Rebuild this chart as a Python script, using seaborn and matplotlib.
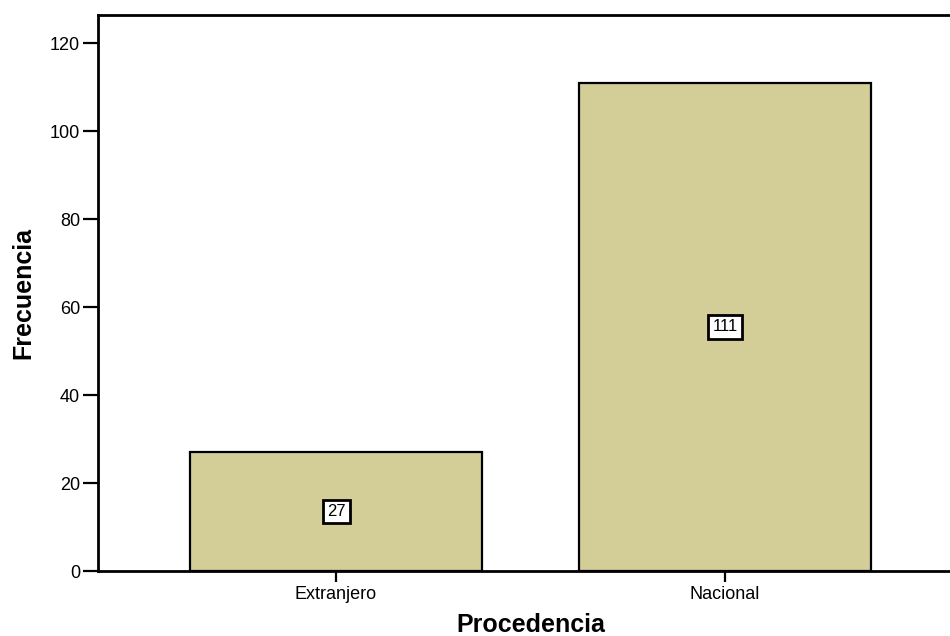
import pandas as pd
import matplotlib
matplotlib.use("Agg")
import matplotlib.pyplot as plt
import seaborn as sns

categorias = ["Extranjero", "Nacional"]
frecuencias = [27, 111]
yticks = [0, 20, 40, 60, 80, 100, 120]

df = pd.DataFrame({"Procedencia": categorias, "Frecuencia": frecuencias})

sns.set_style("white")
plt.rcParams["font.family"] = ["Liberation Sans", "DejaVu Sans"]
plt.rcParams["text.color"] = "black"
plt.rcParams["axes.labelcolor"] = "black"
plt.rcParams["xtick.color"] = "black"
plt.rcParams["ytick.color"] = "black"

fig = plt.figure(figsize=(9.5, 6.36), dpi=100)
ax = fig.add_axes([98 / 950, 65 / 636, 865 / 950, 556 / 636])

sns.barplot(data=df, x="Procedencia", y="Frecuencia", color="#D3CD97",
            saturation=1, width=0.753, edgecolor="black", linewidth=1.6, ax=ax)

for c in ax.containers:
    ax.bar_label(c, label_type="center", fontsize=12, color="black",
                 bbox=dict(boxstyle="square,pad=0.25", fc="white", ec="black", lw=2))

ax.set_xlim(-0.612, 1.612)
ax.set_ylim(0, 126.4)
ax.set_yticks(yticks)
ax.tick_params(axis="y", direction="out", length=11, width=1.6, labelsize=13, pad=2, left=True)
ax.tick_params(axis="x", direction="out", length=8, width=1.6, labelsize=13, pad=3, bottom=True)
for s in ax.spines.values():
    s.set_linewidth(2)
    s.set_color("black")

ax.set_xlabel("Procedencia", fontsize=18, fontweight="bold", labelpad=7)
ax.set_ylabel("Frecuencia", fontsize=18, fontweight="bold", labelpad=10)

fig.savefig("out.png", dpi=100)
